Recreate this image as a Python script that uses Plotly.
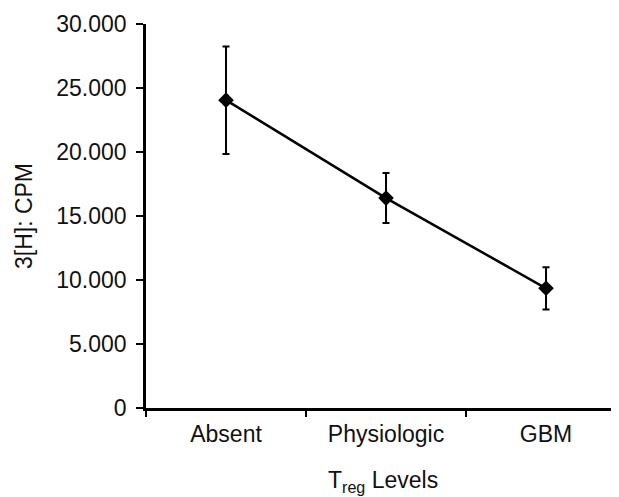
import plotly.graph_objects as go

categories = ["Absent", "Physiologic", "GBM"]
cpm_mean = [24050, 16400, 9350]
cpm_err = [4200, 1950, 1650]
y_tick_vals = [0, 5000, 10000, 15000, 20000, 25000, 30000]
y_tick_text = ["0", "5.000", "10.000", "15.000", "20.000", "25.000", "30.000"]

font_family = "Liberation Sans, Arial, sans-serif"

fig = go.Figure()
fig.add_trace(go.Scatter(
    x=categories, y=cpm_mean,
    mode="lines+markers",
    line=dict(color="black", width=2.5),
    marker=dict(symbol="diamond", size=12, color="black"),
    error_y=dict(type="data", array=cpm_err, visible=True,
                 color="black", thickness=2, width=3.5),
    showlegend=False,
))

fig.add_annotation(
    text="T<sub>reg</sub> Levels", xref="paper", yref="paper",
    x=0.5, y=0, xanchor="center", yanchor="middle", yshift=-73,
    showarrow=False, font=dict(size=23),
)

fig.update_layout(
    width=611, height=489,
    margin=dict(l=138, r=0, t=16, b=89),
    paper_bgcolor="white", plot_bgcolor="white",
    font=dict(family=font_family, size=23, color="#111111"),
    xaxis=dict(
        type="category", range=[-0.5, 2.456],
        tickson="boundaries", ticks="outside", ticklen=6, tickwidth=2,
        tickcolor="black", showline=True, linecolor="black", linewidth=2.5,
        showgrid=False, zeroline=False, ticklabelstandoff=4,
    ),
    yaxis=dict(
        range=[0, 30000], tickvals=y_tick_vals, ticktext=y_tick_text,
        ticks="outside", ticklen=7, tickwidth=2, tickcolor="black",
        showline=True, linecolor="black", linewidth=2.5,
        showgrid=False, zeroline=False, ticklabelstandoff=5,
        title=dict(text="3[H]: CPM", font=dict(size=23), standoff=18),
    ),
)

fig.write_html("out.html")
